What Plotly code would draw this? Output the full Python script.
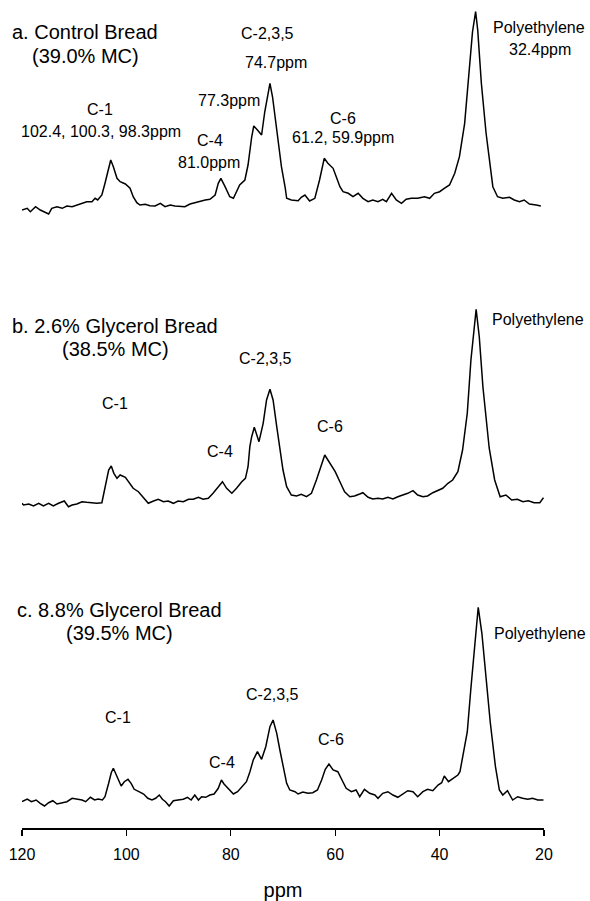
import plotly.graph_objects as go

# ---------------- data (ppm, intensity in arbitrary units above baseline) ----------------
spec_a = [(120.0, -3), (119.0, -1.3), (118.4, -4.7), (117.4, 0.3), (116.5, -3), (115.5, -5.7), (114.9, -7),
          (114.3, -1.3), (113.3, 0.3), (112.3, -1.3), (111.4, 1), (110.4, 0.3), (109.5, 2), (108.5, 4.3),
          (107.6, 5.3), (106.6, 5.3), (106.0, 8.7), (105.5, 7), (104.7, 12), (104.1, 23.7), (103.4, 40.3),
          (103.0, 47), (102.5, 40.3), (101.8, 28.7), (101.2, 25.3), (100.2, 23), (99.3, 18.7), (98.7, 10.3),
          (98.0, 4.3), (97.4, 2), (96.4, 2.7), (95.5, 1.3), (94.5, 1), (93.5, 3.7), (92.6, 0.3), (91.6, 2),
          (90.7, 1), (89.7, 0.3), (88.8, 0.3), (87.8, 3), (86.9, 4.3), (85.9, 5.3), (84.9, 7), (84.0, 7.7),
          (83.0, 12), (82.4, 23.7), (81.9, 28.7), (81.1, 20.3), (80.2, 10.3), (79.5, 8.7), (78.9, 15.3),
          (78.3, 22), (77.3, 27), (76.7, 42), (76.0, 70), (75.6, 81), (74.9, 77), (74.1, 72), (73.5, 95),
          (72.5, 123.7), (72.0, 110), (71.2, 79), (70.3, 40.3), (69.6, 20), (69.3, 8.7), (68.4, 7), (67.1, 6.3),
          (66.5, 9.7), (65.8, 12), (64.9, 6), (63.9, 8.7), (63.0, 27), (62.1, 48.7), (61.4, 43.7), (60.4, 38.7),
          (59.8, 30.3), (59.1, 20.3), (58.5, 15.3), (57.5, 13.7), (56.6, 10.3), (55.6, 13.7), (54.7, 8.7),
          (53.7, 5.3), (52.8, 7), (51.8, 5.3), (50.9, 7.7), (50.2, 5.3), (49.2, 13.7), (48.3, 7), (47.3, 3.7),
          (46.4, 7.7), (45.4, 8.7), (44.2, 8.7), (42.9, 10.3), (41.9, 8.7), (41.0, 13.7), (40.0, 15.3),
          (39.1, 18.7), (38.1, 22), (37.1, 33.7), (36.2, 50.3), (35.2, 83.7), (34.3, 140.3), (33.7, 175),
          (33.1, 195.3), (32.7, 177), (32.0, 123.7), (31.1, 74), (29.8, 20.3), (28.9, 10.3), (27.9, 8.7),
          (26.6, 9.7), (25.7, 7), (24.7, 5.3), (23.8, 7), (22.8, 3), (21.5, 2), (20.6, 1)]

spec_b = [(120.0, -0.3), (119.7, -2), (118.7, -1), (117.8, -3), (116.8, -0.3), (115.9, -3), (114.9, -0.3),
          (114.0, -3), (113.0, -0.3), (111.9, 2), (111.1, -3.7), (110.4, -2), (109.5, -1), (108.5, 1.3),
          (107.6, 0.7), (106.6, 0.3), (105.7, -0.3), (104.7, 0.3), (104.1, 16.3), (103.4, 33), (102.9, 37),
          (102.4, 29.7), (101.8, 24.7), (101.2, 28), (100.2, 25.7), (99.3, 19.7), (98.7, 14.7), (97.7, 11.3),
          (96.7, 4.7), (95.8, -0.3), (94.8, 2), (93.9, 3.7), (92.9, 1.3), (92.0, 2), (91.0, -0.3), (90.1, 2),
          (89.1, 1.3), (88.1, 3.7), (87.2, 3.7), (86.2, 5.7), (85.3, 3.7), (84.3, 4.7), (83.4, 9.7),
          (82.4, 16.3), (81.6, 21.3), (80.8, 14.7), (79.8, 9.7), (78.9, 14.7), (77.9, 21.3), (77.2, 24.7),
          (76.7, 36.3), (76.35, 56.3), (76.0, 66.3), (75.5, 75.7), (74.6, 61.3), (73.8, 79.7), (73.15, 103),
          (72.5, 113.7), (71.9, 103), (71.2, 76.3), (70.6, 53), (70.0, 33), (69.3, 16.3), (68.4, 8), (67.4, 7),
          (66.5, 8.7), (65.5, 6.3), (64.55, 9.7), (63.6, 23), (62.8, 36.3), (62.0, 48), (61.4, 43),
          (60.6, 36.3), (60.0, 31.3), (59.1, 21.3), (58.2, 11.3), (57.2, 6.3), (56.3, 7), (55.3, 9),
          (54.7, 10.3), (53.7, 5.7), (52.8, 4), (51.8, 4.7), (50.9, 4), (49.9, 5.7), (48.95, 4), (48.0, 6.3),
          (47.0, 8), (46.1, 9.7), (45.1, 12.3), (44.2, 8), (43.2, 6.3), (42.3, 7), (41.3, 10.3), (40.3, 12.3),
          (39.4, 14.7), (38.4, 19.7), (37.5, 23), (36.5, 31.3), (35.6, 53), (34.7, 89.7), (34.0, 143),
          (33.0, 193.7), (32.4, 166.3), (31.7, 116), (30.9, 76.3), (30.5, 55), (29.45, 23), (28.4, 6.3),
          (27.3, 8), (26.2, 3), (25.1, 3.7), (24.05, 1.3), (23.0, 2.3), (21.9, 0.3), (20.8, 0.3), (20.1, 5.3)]

spec_c = [(120.0, 0.3), (119.0, 3), (118.2, 0.3), (117.3, 2), (116.5, -1.3), (115.7, -4), (114.9, -0.7),
          (114.1, 1.3), (113.3, -2), (112.4, -0.7), (111.4, 0.3), (110.4, 3.7), (109.5, 2.7), (108.5, 2),
          (107.8, 0.3), (106.9, 4.7), (106.1, 2), (105.4, 3), (104.6, 2), (104.1, 5.3), (103.4, 18.7),
          (102.9, 29.3), (102.5, 33.7), (101.8, 25.3), (101.0, 16), (100.4, 20.3), (99.7, 22.7), (99.1, 18.7),
          (98.5, 12.7), (97.6, 10.3), (96.7, 8), (95.9, 3.7), (95.1, 2), (94.4, 3.7), (93.7, 7), (93.1, 2.7),
          (92.5, 0.3), (91.8, -4), (91.0, 1.3), (90.1, 2), (89.1, 2.7), (88.3, 4.7), (87.6, 2), (86.9, 7),
          (86.2, 2), (85.6, 5.3), (84.8, 4.7), (84.0, 7), (83.2, 8), (82.4, 13.7), (81.8, 22), (81.3, 18),
          (80.5, 13.7), (79.5, 8), (78.7, 10.3), (77.9, 15.3), (77.0, 20.3), (76.35, 30), (75.7, 42),
          (74.9, 50.3), (74.1, 42.7), (73.3, 55.3), (72.5, 75.3), (71.9, 82), (71.2, 68.7), (70.6, 52),
          (70.0, 35.3), (69.3, 18.7), (68.7, 12), (67.7, 10.3), (67.1, 8), (66.2, 10), (65.2, 8.7), (64.3, 9.3),
          (63.4, 12), (62.6, 22), (61.9, 32.7), (61.2, 38), (60.4, 32), (59.5, 30.3), (58.7, 22), (57.9, 13.7),
          (56.9, 10.3), (56.0, 12), (55.3, 5.3), (54.4, 12.7), (53.4, 8.7), (52.4, 7), (51.8, 3.7), (50.9, 8.7),
          (49.9, 10.3), (48.95, 7), (48.0, 4.7), (47.0, 8), (46.1, 11.3), (45.1, 10.3), (44.2, 5.3),
          (43.2, 10.3), (42.3, 12.7), (41.3, 11.3), (40.3, 17), (39.6, 19.3), (39.1, 26), (38.3, 20.3),
          (37.5, 23.7), (36.5, 27), (36.1, 30.3), (35.6, 45.3), (34.7, 70), (34.0, 114), (33.2, 165.3),
          (32.6, 194.7), (31.9, 168.7), (30.9, 112), (30.3, 80), (29.3, 35.3), (28.55, 12), (27.9, 7),
          (27.0, 11.3), (26.0, 2), (25.05, 5.3), (24.1, 3.7), (23.1, 2.7), (22.2, 3.7), (21.2, 2), (20.1, 2)]

x_ticks = [120, 100, 80, 60, 40, 20]
x_title = "ppm"

titles = [("a. Control Bread", "(39.0% MC)"),
          ("b. 2.6% Glycerol Bread", "(38.5% MC)"),
          ("c. 8.8% Glycerol Bread", "(39.5% MC)")]

labels_a = ["C-1", "102.4, 100.3, 98.3ppm", "C-4", "81.0ppm", "77.3ppm", "C-2,3,5", "74.7ppm",
            "C-6", "61.2, 59.9ppm", "Polyethylene", "32.4ppm"]
labels_b = ["C-1", "C-4", "C-2,3,5", "C-6", "Polyethylene"]
labels_c = ["C-1", "C-4", "C-2,3,5", "C-6", "Polyethylene"]

# ---------------- layout geometry (pixels) ----------------
W, H = 590, 901
L, R, T, B = 22, 46, 0, 73
PW = W - L - R
PH = H - T - B


def fx(px):
    return (px - L) / PW


def fy(py):
    return (H - B - py) / PH


baselines_px = [207, 503, 802]
Y_LO, Y_HI = -12, 205

title_pos = [(85, 32, 56), (115, 326, 349), (119.5, 610, 633)]
pos_a = [(100, 109), (101, 131), (210, 141), (209, 162.5), (229, 101), (267.5, 34), (276, 62.5),
         (343, 119), (343, 137.5), (539, 27.5), (540, 49)]
pos_b = [(115, 404), (220, 451), (265, 358), (330, 426), (538, 319)]
pos_c = [(118, 717), (221.7, 762.5), (272.7, 694), (331.3, 739), (540, 633)]

FONT = "Liberation Sans, Arial, sans-serif"

fig = go.Figure()
specs = [spec_a, spec_b, spec_c]
for i, spec in enumerate(specs):
    xs = [p[0] for p in spec]
    ys = [p[1] for p in spec]
    suffix = "" if i == 2 else str(3 - i)
    xa = "x" + suffix
    ya = "y" + suffix
    fig.add_trace(go.Scatter(x=xs, y=ys, mode="lines", xaxis=xa, yaxis=ya,
                             line=dict(color="black", width=1.5), showlegend=False,
                             hoverinfo="skip"))

layout = dict(
    width=W, height=H,
    margin=dict(l=L, r=R, t=T, b=B),
    paper_bgcolor="white", plot_bgcolor="rgba(0,0,0,0)",
    font=dict(family=FONT, color="black"),
    showlegend=False,
)

for i in range(3):
    base = baselines_px[i]
    dom = [fy(base - Y_LO), fy(base - Y_HI)]
    suffix = "" if i == 2 else str(3 - i)
    yname = "yaxis" + suffix
    xname = "xaxis" + suffix
    layout[yname] = dict(domain=dom, range=[Y_LO, Y_HI], visible=False, fixedrange=True,
                         anchor="x" + suffix)
    if i == 2:
        layout[xname] = dict(domain=[0, 1], range=[120, 20], anchor="free", position=0,
                             showline=True, linecolor="black", linewidth=1.5,
                             ticks="outside", ticklen=6, tickwidth=1.2, tickcolor="black",
                             tickvals=x_ticks, ticktext=[str(t) for t in x_ticks],
                             tickfont=dict(size=16, family=FONT, color="black"),
                             ticklabelstandoff=5,
                             showgrid=False, zeroline=False,
                             title=dict(text=x_title, font=dict(size=20, family=FONT, color="black"),
                                        standoff=21))
    else:
        layout[xname] = dict(domain=[0, 1], range=[120, 20], anchor="y" + suffix,
                             visible=False, matches="x")

annotations = []
for (t1, t2), (cx, y1, y2) in zip(titles, title_pos):
    annotations.append(dict(text=t1, x=fx(cx), y=fy(y1), xref="paper", yref="paper",
                            showarrow=False, xanchor="center", yanchor="middle",
                            font=dict(size=20, family=FONT, color="black")))
    annotations.append(dict(text=t2, x=fx(cx), y=fy(y2), xref="paper", yref="paper",
                            showarrow=False, xanchor="center", yanchor="middle",
                            font=dict(size=20, family=FONT, color="black")))

for labs, poss in [(labels_a, pos_a), (labels_b, pos_b), (labels_c, pos_c)]:
    for txt, (px, py) in zip(labs, poss):
        annotations.append(dict(text=txt, x=fx(px), y=fy(py), xref="paper", yref="paper",
                                showarrow=False, xanchor="center", yanchor="middle",
                                font=dict(size=16, family=FONT, color="black")))

layout["annotations"] = annotations
fig.update_layout(**layout)

fig.write_html("out.html", config={"displayModeBar": False, "staticPlot": True},
               post_script="document.body.style.margin='0';document.body.style.overflow='hidden';")
